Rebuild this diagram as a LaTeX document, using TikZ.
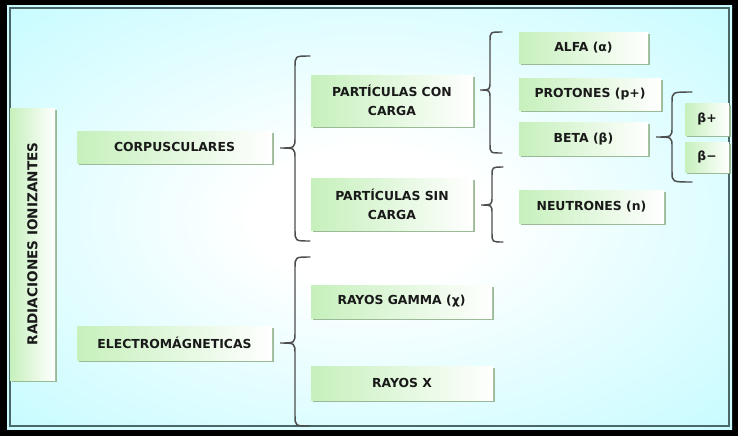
\documentclass[tikz,border=0pt]{standalone}
\usepackage{fontspec}
\usepackage{graphicx}
\setmainfont{DejaVu Sans}
\usetikzlibrary{shadows}
\definecolor{bgcyan}{HTML}{C2FBFF}
\definecolor{boxgreen}{HTML}{C6F0BC}
\definecolor{shadowgreen}{HTML}{93B38C}
\definecolor{framegray}{HTML}{4A6868}
\definecolor{bracegray}{HTML}{4D4D4D}
\pgfdeclareradialshading{bgshade}{\pgfpoint{0bp}{0bp}}{color(0bp)=(white); color(8bp)=(white); color(38bp)=(bgcyan); color(50bp)=(bgcyan)}
\newcommand{\cbrace}[7]{%
  \draw[brc] (#1,#4) .. controls (#2,#4) .. (#2,#4+#7) -- (#2,#5-#7)
    .. controls (#2,#5) .. (#3,#5) .. controls (#2,#5) .. (#2,#5+#7)
    -- (#2,#6-#7) .. controls (#2,#6) .. (#1,#6);}
\begin{document}
\begin{tikzpicture}[x=0.75pt,y=-0.75pt,
  box/.style={left color=boxgreen, right color=white, draw=none, inner sep=0pt,
    font=\bfseries\fontsize{9.3}{14}\selectfont, text=black!90, align=center,
    drop shadow={shadow xshift=1.4pt, shadow yshift=-1.4pt, fill=shadowgreen, opacity=0.9}},
  sz/.style 2 args={minimum width=#1*0.75pt, minimum height=#2*0.75pt},
  brc/.style={draw=bracegray, line width=1.1pt, line cap=round},
]
\useasboundingbox (0,0) rectangle (738,436);
% frame and background
\fill[black] (0,0) rectangle (738,436);
\shade[shading=bgshade] (7,5) rectangle (732,429);
\draw[framegray, line width=1.2pt] (10,8) rectangle (729,426);

% boxes
\node[box, sz={45}{272}, font=\bfseries\fontsize{10.2}{14}\selectfont] (rad) at (32.5,244) {\rotatebox{90}{RADIACIONES IONIZANTES}};
\node[box, sz={195}{32}] (corp) at (174.5,147) {CORPUSCULARES};
\node[box, sz={195}{34}] (elec) at (174.5,343) {ELECTROMÁGNETICAS};
\node[box, sz={162}{51}] (pcon) at (392,100.5) {PARTÍCULAS CON\\CARGA};
\node[box, sz={162}{52}] (psin) at (392,204) {PARTÍCULAS SIN\\CARGA};
\node[box, sz={129}{31}] (alfa) at (583.5,47.5) {ALFA (α)};
\node[box, sz={142}{32}] (prot) at (590,94) {PROTONES (p+)};
\node[box, sz={129}{33}] (beta) at (583.5,138.5) {BETA (β)};
\node[box, sz={145}{33}] (neut) at (591.5,206.5) {NEUTRONES (n)};
\node[box, sz={44}{32}] (bplus) at (707,119) {β+};
\node[box, sz={44}{30}] (bminus) at (707,157) {β−};
\node[box, sz={181}{33}] (gamma) at (401.5,301.5) {RAYOS GAMMA (χ)};
\node[box, sz={182}{34}] (rayx) at (402,383) {RAYOS X};

% braces
\cbrace{310}{295}{280}{56}{148}{241}{11}
\cbrace{310}{295}{280}{257}{343}{426}{11}
\cbrace{502}{490}{480}{32}{90}{153}{9}
\cbrace{503}{492}{481}{167}{205}{242}{9}
\cbrace{692}{672}{656}{92}{137}{182}{10}
\end{tikzpicture}
\end{document}
